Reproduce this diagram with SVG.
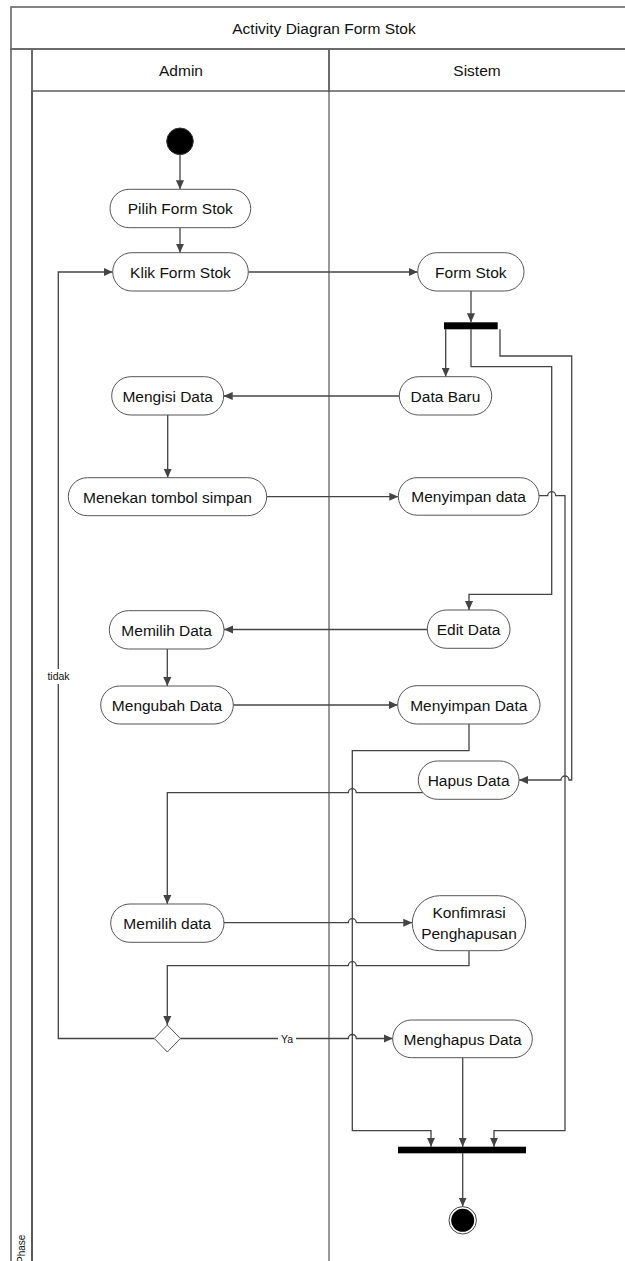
<svg xmlns="http://www.w3.org/2000/svg" width="625" height="1261" viewBox="0 0 625 1261">
<defs>
<linearGradient id="hdr" x1="0" y1="0" x2="0" y2="1"><stop offset="0" stop-color="#fbfbfb"/><stop offset="1" stop-color="#ebebeb"/></linearGradient>
<linearGradient id="strip" x1="0" y1="0" x2="1" y2="0"><stop offset="0" stop-color="#ececec"/><stop offset="1" stop-color="#ffffff"/></linearGradient>
<marker id="arr" viewBox="0 0 10 10" refX="10" refY="5" markerWidth="9" markerHeight="9" markerUnits="userSpaceOnUse" orient="auto"><path d="M0,0.5 L10,5 L0,9.5 z" fill="#444"/></marker>
<style>
.frame{fill:none;stroke:#666;stroke-width:1.6}
.lane{fill:none;stroke:#333;stroke-width:1}
.node{fill:#fff;stroke:#555;stroke-width:1}
.t{font-family:"Liberation Sans",Arial,sans-serif;font-size:15.5px;fill:#111;text-anchor:middle}
.h{font-family:"Liberation Sans",Arial,sans-serif;font-size:15.5px;fill:#111;text-anchor:middle}
.lbl{font-family:"Liberation Sans",Arial,sans-serif;font-size:10.5px;fill:#111;text-anchor:middle}
.c{fill:none;stroke:#444;stroke-width:1.3}
.ca{fill:none;stroke:#444;stroke-width:1.3;marker-end:url(#arr)}
</style>
</defs>
<rect x="0" y="0" width="625" height="1261" fill="#fff"/>
<g id="frame">
<rect x="11" y="7" width="630" height="42" fill="url(#hdr)" class="frame"/>
<rect x="11" y="49" width="21" height="1220" fill="url(#strip)" class="frame"/>
<rect x="32" y="49" width="297" height="42" fill="url(#hdr)" class="frame"/>
<rect x="329" y="49" width="300" height="42" fill="url(#hdr)" class="frame"/>
<line x1="32" y1="91" x2="32" y2="1261" stroke="#555" stroke-width="1.8"/>
<line x1="329" y1="91" x2="329" y2="1261" class="lane"/>
<text class="h" x="324" y="33.5">Activity Diagran Form Stok</text>
<text class="h" x="181" y="75.5">Admin</text>
<text class="h" x="477" y="75.5">Sistem</text>
<text class="lbl" transform="translate(25,1263) rotate(-90)" style="text-anchor:start;font-size:10px">Phase</text>
</g>
<g id="connectors">
<path class="ca" d="M180,154.5 V189.3"/>
<path class="ca" d="M180,227.7 V252.7"/>
<path class="ca" d="M248.3,272 H417.7"/>
<path class="ca" d="M471,291 V322.3"/>
<path class="ca" d="M445.7,329.3 V376.7"/>
<path class="ca" d="M471,329.3 V366.7 H551.7 V594.3 H469 V610"/>
<path class="ca" d="M500,329.3 V356 H571.7 V780 H569 A4,4 0 0 0 561,780 H519"/>
<path class="ca" d="M399.3,396 H223.7"/>
<path class="ca" d="M167.7,415 V477.7"/>
<path class="ca" d="M266.7,496.7 H398.3"/>
<path class="ca" d="M539,495.7 H547.7 A4,4 0 0 1 555.7,495.7 H565 V1130.7 H494 V1146.7"/>
<path class="ca" d="M427.3,629.5 H224"/>
<path class="ca" d="M167.3,649 V686"/>
<path class="ca" d="M233.3,705 H397.7"/>
<path class="ca" d="M469,724 V750.7 H352.3 V1130.7 H431 V1146.7"/>
<path class="ca" d="M423,792.7 H356.3 A4,4 0 0 0 348.3,792.7 H167.3 V904"/>
<path class="ca" d="M224,922.7 H348.3 A4,4 0 0 1 356.3,922.7 H412.3"/>
<path class="ca" d="M469,950.7 V965.7 H356.3 A4,4 0 0 0 348.3,965.7 H167.3 V1025"/>
<path class="ca" d="M180.3,1038.5 H348.3 A4,4 0 0 1 356.3,1038.5 H392.7"/>
<path class="ca" d="M154.3,1038.5 H58.3 V272 H112.7"/>
<path class="ca" d="M462.7,1057.7 V1146.7"/>
<path class="ca" d="M462.7,1153.3 V1206.5"/>
<rect x="45" y="669" width="27" height="15" fill="#fff"/>
<text class="lbl" x="58.5" y="680">tidak</text>
<rect x="278" y="1032" width="18" height="13" fill="#fff"/>
<text class="lbl" x="287" y="1042.5">Ya</text>
</g>
<g id="start"><circle cx="180" cy="141.3" r="13.3" fill="#000" stroke="#333" stroke-width="1"/></g>
<g id="pilih-form-stok"><rect class="node" x="110" y="189.3" width="140.7" height="38.4" rx="19.2"/><text class="t" x="180.3" y="214">Pilih Form Stok</text></g>
<g id="klik-form-stok"><rect class="node" x="112.7" y="252.7" width="135.6" height="38.3" rx="19.1"/><text class="t" x="180.5" y="277.5">Klik Form Stok</text></g>
<g id="form-stok"><rect class="node" x="417.7" y="252.7" width="106.3" height="38.3" rx="19.1"/><text class="t" x="470.8" y="277.5">Form Stok</text></g>
<g id="fork"><rect x="444" y="322.3" width="53.7" height="7" fill="#000"/></g>
<g id="data-baru"><rect class="node" x="399.3" y="376.7" width="92.4" height="38.3" rx="19.1"/><text class="t" x="445.5" y="401.5">Data Baru</text></g>
<g id="mengisi-data"><rect class="node" x="111.7" y="376.7" width="112" height="38.3" rx="19.1"/><text class="t" x="167.7" y="401.5">Mengisi Data</text></g>
<g id="menekan-tombol-simpan"><rect class="node" x="68.3" y="477.7" width="198.4" height="38" rx="19"/><text class="t" x="167.5" y="502.5">Menekan tombol simpan</text></g>
<g id="menyimpan-data-1"><rect class="node" x="398.3" y="477.7" width="140.7" height="37.5" rx="18.7"/><text class="t" x="468.6" y="502">Menyimpan data</text></g>
<g id="edit-data"><rect class="node" x="427.3" y="610" width="82.7" height="38.3" rx="19.1"/><text class="t" x="468.6" y="635">Edit Data</text></g>
<g id="memilih-data-1"><rect class="node" x="109.3" y="610.7" width="114.7" height="38.3" rx="19.1"/><text class="t" x="166.6" y="635.5">Memilih Data</text></g>
<g id="mengubah-data"><rect class="node" x="100.7" y="686" width="132.6" height="38" rx="19"/><text class="t" x="167" y="710.5">Mengubah Data</text></g>
<g id="menyimpan-data-2"><rect class="node" x="397.7" y="685.7" width="142.3" height="38.3" rx="19.1"/><text class="t" x="468.8" y="710.5">Menyimpan Data</text></g>
<g id="hapus-data"><rect class="node" x="418.3" y="761" width="100.7" height="38.3" rx="19.1"/><text class="t" x="468.6" y="785.5">Hapus Data</text></g>
<g id="memilih-data-2"><rect class="node" x="110.7" y="904" width="113.3" height="38.3" rx="19.1"/><text class="t" x="167.3" y="928.5">Memilih data</text></g>
<g id="konfirmasi-penghapusan"><rect class="node" x="412.3" y="895.7" width="113.4" height="55" rx="27.5"/><text class="t" x="469" y="918">Konfimrasi</text><text class="t" x="469" y="938.5">Penghapusan</text></g>
<g id="decision"><polygon class="node" points="167.3,1025 180.3,1038.5 167.3,1052 154.3,1038.5"/></g>
<g id="menghapus-data"><rect class="node" x="392.7" y="1020" width="139.6" height="37.7" rx="18.8"/><text class="t" x="462.5" y="1044.5">Menghapus Data</text></g>
<g id="join"><rect x="398" y="1146.7" width="128" height="6.6" fill="#000"/></g>
<g id="end"><circle cx="462.7" cy="1220.3" r="13.7" fill="#fff" stroke="#444" stroke-width="1"/><circle cx="462.7" cy="1220.3" r="11.5" fill="#000"/></g>
</svg>
